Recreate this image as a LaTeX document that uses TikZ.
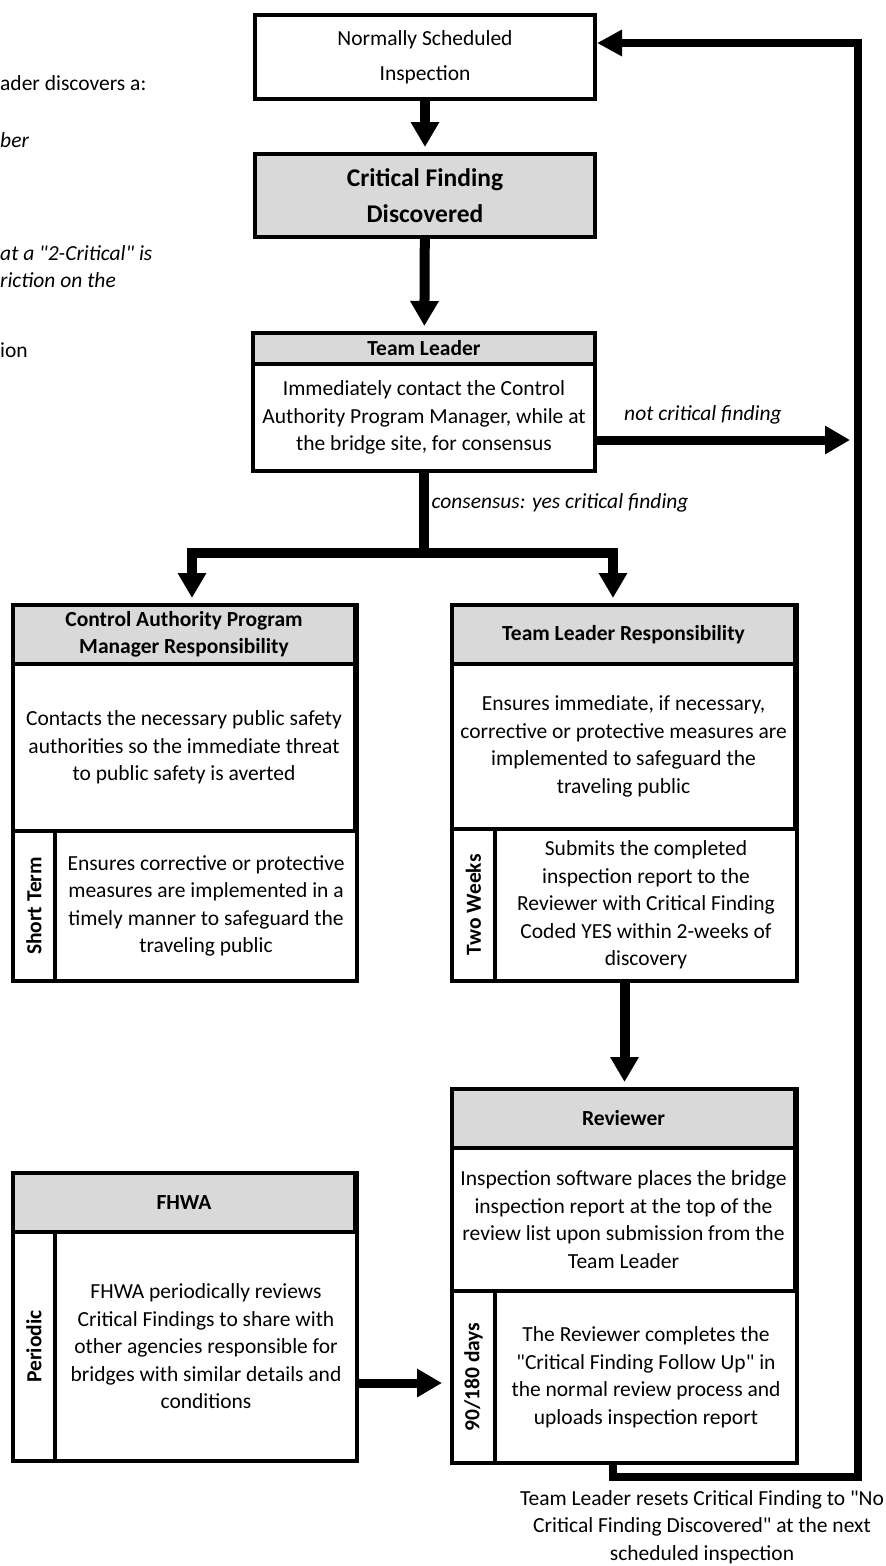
\documentclass[tikz,border=0pt]{standalone}
\usepackage{fontspec}
\setmainfont{Carlito}
\usetikzlibrary{arrows.meta,fit,positioning}
\definecolor{headgray}{HTML}{D9D9D9}
\newcommand{\boxfont}{\fontsize{21.5}{27.5}\selectfont}

\begin{document}
\begin{tikzpicture}[x=1pt,y=-1pt,
    every node/.style={font=\boxfont},
    box/.style={draw, line width=2pt, anchor=north west, inner sep=0pt, align=center},
    headbox/.style={box, fill=headgray, font=\boxfont\bfseries},
    plain/.style={draw, line width=4pt, anchor=north west, inner sep=0pt, align=center, minimum width=340pt},
    frame/.style={draw, line width=4pt, inner sep=0pt},
    sidelabel/.style={rotate=90, font=\boxfont\bfseries},
    flow/.style={line width=10pt, shorten >=5pt, -{Triangle[length=25pt,width=27pt]}},
    bar/.style={line width=10pt, line cap=rect},
    loopline/.style={line width=8pt},
    note/.style={font=\boxfont\itshape}]

    \useasboundingbox (0,0) rectangle (886,1566);

    % Cut-off text at the left edge
    \foreach \y/\frag in {83/{ader discovers a:}, 140/{\itshape ber}, 253/{\itshape at a \textquotedbl 2-Critical\textquotedbl{} is}, 280/{\itshape riction on the}, 350/{ion}} {
        \node[anchor=west, inner sep=0pt] (frag\y) at (0,\y) {\frag};
    }

    % Top boxes
    \node[plain, minimum height=84pt, font=\fontsize{21.5}{35}\selectfont] (normal) at (253,13) {Normally Scheduled\\Inspection};
    \node[plain, fill=headgray, minimum height=83pt, font=\fontsize{25.5}{36}\selectfont\bfseries] (critical) at (253,152) {Critical Finding\\Discovered};

    % Team Leader
    \node[headbox, minimum width=340pt, minimum height=29pt] (tlhead) at (253,333) {Team Leader};
    \node[box, minimum width=340pt, minimum height=105pt] (tlbody) at (tlhead.south west) {Immediately contact the Control\\Authority Program Manager, while at\\the bridge site, for consensus};
    \node[frame, fit=(tlhead)(tlbody)] (tl) {};

    % Control Authority Program Manager
    \node[headbox, minimum width=340pt, minimum height=57pt] (capmhead) at (13,605) {Control Authority Program\\Manager Responsibility};
    \node[box, minimum width=340pt, minimum height=165pt] (capmbody) at (capmhead.south west) {Contacts the necessary public safety\\authorities so the immediate threat\\to public safety is averted};
    \node[box, minimum width=40pt, minimum height=148pt] (capmside) at (capmbody.south west) {};
    \node[box, minimum width=300pt, minimum height=148pt] (capmlow) at (capmside.north east) {Ensures corrective or protective\\measures are implemented in a\\timely manner to safeguard the\\traveling public};
    \node[sidelabel] (capmterm) at (capmside) {Short Term};
    \node[frame, fit=(capmhead)(capmside)(capmlow)] (capm) {};

    % Team Leader Responsibility
    \node[headbox, minimum width=341pt, minimum height=57pt] (tlrhead) at (452,605) {Team Leader Responsibility};
    \node[box, minimum width=341pt, minimum height=163pt] (tlrbody) at (tlrhead.south west) {Ensures immediate, if necessary,\\corrective or protective measures are\\implemented to safeguard the\\traveling public};
    \node[box, minimum width=41pt, minimum height=150pt] (tlrside) at (tlrbody.south west) {};
    \node[box, minimum width=300pt, minimum height=150pt] (tlrlow) at (tlrside.north east) {Submits the completed\\inspection report to the\\Reviewer with Critical Finding\\Coded YES within 2-weeks of\\discovery};
    \node[sidelabel] (tlrterm) at (tlrside) {Two Weeks};
    \node[frame, fit=(tlrhead)(tlrside)(tlrlow)] (tlr) {};

    % Reviewer
    \node[headbox, minimum width=341pt, minimum height=57pt] (revhead) at (452,1089) {Reviewer};
    \node[box, minimum width=341pt, minimum height=141pt] (revbody) at (revhead.south west) {Inspection software places the bridge\\inspection report at the top of the\\review list upon submission from the\\Team Leader};
    \node[box, minimum width=41pt, minimum height=170pt] (revside) at (revbody.south west) {};
    \node[box, minimum width=300pt, minimum height=170pt] (revlow) at (revside.north east) {The Reviewer completes the\\\textquotedbl Critical Finding Follow Up\textquotedbl{} in\\the normal review process and\\uploads inspection report};
    \node[sidelabel] (revterm) at (revside) {90/180 days};
    \node[frame, fit=(revhead)(revside)(revlow)] (reviewer) {};

    % FHWA
    \node[headbox, minimum width=340pt, minimum height=57pt] (fhwahead) at (13,1173) {FHWA};
    \node[box, minimum width=40pt, minimum height=227pt] (fhwaside) at (fhwahead.south west) {};
    \node[box, minimum width=300pt, minimum height=227pt] (fhwalow) at (fhwaside.north east) {FHWA periodically reviews\\Critical Findings to share with\\other agencies responsible for\\bridges with similar details and\\conditions};
    \node[sidelabel] (fhwaterm) at (fhwaside) {Periodic};
    \node[frame, fit=(fhwahead)(fhwaside)(fhwalow)] (fhwa) {};

    % Arrows down the middle
    \draw[flow] (normal) -- (critical);
    \draw[flow] (critical) -- (tl);

    % Split after consensus
    \coordinate (forkL) at (192,553);
    \coordinate (forkR) at (613,553);
    \draw[line width=10pt] (tl) -- (tl |- forkL);
    \draw[bar] (forkL) -- (forkR);
    \draw[flow] (forkL) -- (forkL |- capm.north);
    \draw[flow] (forkR) -- (forkR |- tlr.north);
    \node[note, anchor=west] (yesnote) at (428,503) {consensus: yes critical finding};

    \draw[flow] (tlr) -- (reviewer);

    % FHWA feeds the reviewer
    \coordinate (fhy) at (400,1383);
    \draw[flow, line width=9pt, shorten >=8pt] (fhwa.east |- fhy) -- (reviewer.west |- fhy);

    % Not critical: back to the schedule
    \coordinate (ncend) at (850,440);
    \draw[flow, line width=9pt, shorten >=0pt] (tl.east |- ncend) -- (ncend);
    \node[note] (nclabel) at (703,415) {not critical finding};

    % Loop back to the normal inspection
    \coordinate (revout) at (613,1477);
    \coordinate (loopB) at (858,1477);
    \coordinate (loopT) at (858,43);
    \draw[loopline, -{Triangle[length=25pt,width=25pt]}] (revout |- reviewer.south) -- (revout) -- (loopB) -- (loopT) -- (loopT -| normal.east);
    \node[align=center] (resetnote) at (702,1527) {Team Leader resets Critical Finding to \textquotedbl No\\Critical Finding Discovered\textquotedbl{} at the next\\scheduled inspection};
\end{tikzpicture}
\end{document}
